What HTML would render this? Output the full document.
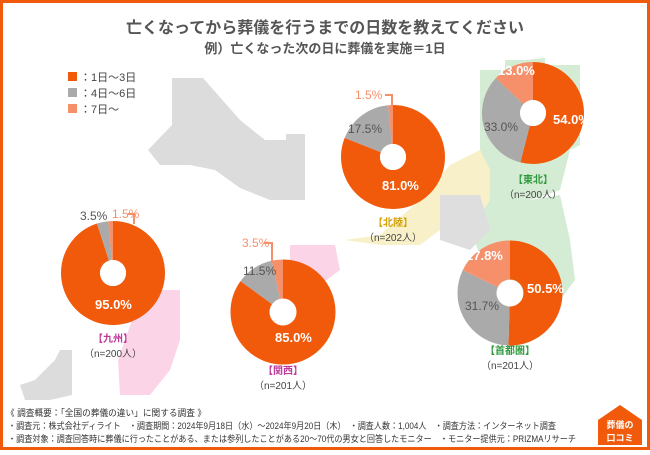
<!DOCTYPE html><html><head><meta charset="utf-8"><style>
body{margin:0;width:650px;height:450px;overflow:hidden;font-family:"Liberation Sans","Noto Sans CJK JP",sans-serif;}
</style></head><body>
<svg width="650" height="450" viewBox="0 0 650 450" xmlns="http://www.w3.org/2000/svg" font-family="Liberation Sans, Noto Sans CJK JP, sans-serif">
<rect x="1.5" y="1.5" width="647" height="447" fill="#fff" stroke="#f05a0a" stroke-width="3"/>
<g fill="#dcdcdc">
<polygon points="172,78 203,78 240,120 265,140 286,140 286,134 305,134 305,200 270,200 240,188 215,170 190,165 160,165 148,150 172,125"/>
<polygon points="35,380 55,360 60,350 72,350 72,395 50,400 25,400 20,385"/>
</g>
<g fill="#d4ebd4">
<polygon points="480,70 505,70 505,60 525,60 545,58 545,65 580,65 580,145 570,150 560,190 530,200 510,205 490,200 490,170 480,150"/>
<polygon points="490,200 530,200 560,195 570,240 575,280 560,300 530,300 500,280 480,255 470,230"/>
</g>
<g fill="#f7f0c8"><polygon points="345,240 380,235 420,200 450,165 480,150 490,170 490,200 470,230 440,230 420,245 380,245"/></g>
<g fill="#dedede"><polygon points="440,195 480,195 490,230 470,250 440,240"/></g>
<g fill="#fbd4e8">
<polygon points="290,245 335,245 340,270 320,285 300,290 290,270"/>
<polygon points="148,290 180,290 180,340 170,370 150,395 120,395 118,360 132,320"/>
</g>
<text x="325" y="33" text-anchor="middle" font-size="16" font-weight="bold" fill="#555">亡くなってから葬儀を行うまでの日数を教えてください</text>
<text x="325" y="53" text-anchor="middle" font-size="13" font-weight="bold" fill="#555">例）亡くなった次の日に葬儀を実施＝1日</text>
<rect x="68" y="72" width="9" height="9" fill="#f05a0a"/><text x="80" y="81" font-size="11" fill="#444">：1日〜3日</text>
<rect x="68" y="88" width="9" height="9" fill="#aaa"/><text x="80" y="97" font-size="11" fill="#444">：4日〜6日</text>
<rect x="68" y="104" width="9" height="9" fill="#f6906a"/><text x="80" y="113" font-size="11" fill="#444">：7日〜</text>
<g fill="none">
<g transform="translate(113,273) rotate(-90)" stroke-width="39">
<circle r="32.5" stroke="#f05a0a" pathLength="100" stroke-dasharray="95 100"/>
<circle r="32.5" stroke="#aaa" pathLength="100" stroke-dasharray="3.5 100" stroke-dashoffset="-95"/>
<circle r="32.5" stroke="#f6906a" pathLength="100" stroke-dasharray="1.5 100" stroke-dashoffset="-98.5"/>
</g>
<g transform="translate(283,312) rotate(-90)" stroke-width="39">
<circle r="33" stroke="#f05a0a" pathLength="100" stroke-dasharray="85 100"/>
<circle r="33" stroke="#aaa" pathLength="100" stroke-dasharray="11.5 100" stroke-dashoffset="-85"/>
<circle r="33" stroke="#f6906a" pathLength="100" stroke-dasharray="3.5 100" stroke-dashoffset="-96.5"/>
</g>
<g transform="translate(393,157) rotate(-90)" stroke-width="39">
<circle r="32.5" stroke="#f05a0a" pathLength="100" stroke-dasharray="81 100"/>
<circle r="32.5" stroke="#aaa" pathLength="100" stroke-dasharray="17.5 100" stroke-dashoffset="-81"/>
<circle r="32.5" stroke="#f6906a" pathLength="100" stroke-dasharray="1.5 100" stroke-dashoffset="-98.5"/>
</g>
<g transform="translate(533,113) rotate(-90)" stroke-width="38">
<circle r="32" stroke="#f05a0a" pathLength="100" stroke-dasharray="54 100"/>
<circle r="32" stroke="#aaa" pathLength="100" stroke-dasharray="33 100" stroke-dashoffset="-54"/>
<circle r="32" stroke="#f6906a" pathLength="100" stroke-dasharray="13 100" stroke-dashoffset="-87"/>
</g>
<g transform="translate(510,293) rotate(-90)" stroke-width="39">
<circle r="33" stroke="#f05a0a" pathLength="100" stroke-dasharray="50.5 100"/>
<circle r="33" stroke="#aaa" pathLength="100" stroke-dasharray="31.7 100" stroke-dashoffset="-50.5"/>
<circle r="33" stroke="#f6906a" pathLength="100" stroke-dasharray="17.8 100" stroke-dashoffset="-82.2"/>
</g>
</g>
<g fill="#fff">
<circle cx="113" cy="273" r="13"/><circle cx="283" cy="312" r="13"/><circle cx="393" cy="157" r="13"/><circle cx="533" cy="113" r="13"/><circle cx="510" cy="293" r="13"/>
</g>
<g stroke="#f6906a" stroke-width="2" fill="none">
<polyline points="128,214 134,214 134,224"/>
<polyline points="385,95 392,95 392,106"/>
<polyline points="264,243 272,243 272,262"/>
</g>
<g font-weight="bold" font-size="13" fill="#fff">
<text x="95" y="309">95.0%</text>
<text x="275" y="342">85.0%</text>
<text x="382" y="190">81.0%</text>
<text x="553" y="124">54.0%</text>
<text x="527" y="293">50.5%</text>
<text x="498" y="75">13.0%</text>
<text x="466" y="260">17.8%</text>
</g>
<g font-size="12" fill="#555">
<text x="80" y="220">3.5%</text>
<text x="348" y="133">17.5%</text>
<text x="484" y="131">33.0%</text>
<text x="465" y="310">31.7%</text>
<text x="243" y="275">11.5%</text>
</g>
<g font-size="12" fill="#f6906a">
<text x="112" y="218">1.5%</text>
<text x="355" y="99">1.5%</text>
<text x="242" y="247">3.5%</text>
</g>
<g font-size="10" text-anchor="middle">
<text x="113" y="342" fill="#c0399a" font-weight="bold">【九州】</text><text x="113" y="357" fill="#444">（n=200人）</text>
<text x="283" y="374" fill="#c0399a" font-weight="bold">【関西】</text><text x="283" y="389" fill="#444">（n=201人）</text>
<text x="393" y="226" fill="#d6a000" font-weight="bold">【北陸】</text><text x="393" y="241" fill="#444">（n=202人）</text>
<text x="533" y="183" fill="#2e9a3c" font-weight="bold">【東北】</text><text x="533" y="198" fill="#444">（n=200人）</text>
<text x="510" y="354" fill="#2e9a3c" font-weight="bold">【首都圏】</text><text x="510" y="369" fill="#444">（n=201人）</text>
</g>
<g font-size="9" fill="#333">
<text x="6" y="416" textLength="200" lengthAdjust="spacingAndGlyphs">《 調査概要：「全国の葬儀の違い」に関する調査 》</text>
<text x="8" y="429" textLength="548" lengthAdjust="spacingAndGlyphs">・調査元：株式会社ディライト　・調査期間：2024年9月18日（水）〜2024年9月20日（木）　・調査人数：1,004人　・調査方法：インターネット調査</text>
<text x="8" y="442" textLength="568" lengthAdjust="spacingAndGlyphs">・調査対象：調査回答時に葬儀に行ったことがある、または参列したことがある20〜70代の男女と回答したモニター　・モニター提供元：PRIZMAリサーチ</text>
</g>
<g>
<polygon points="598,420 620,405 642,420 642,445 598,445" fill="#f05a0a"/>
<text x="620" y="428" text-anchor="middle" font-size="9" font-weight="bold" fill="#fff">葬儀の</text>
<text x="620" y="441" text-anchor="middle" font-size="9" font-weight="bold" fill="#fff">口コミ</text>
</g>
</svg>
</body></html>
